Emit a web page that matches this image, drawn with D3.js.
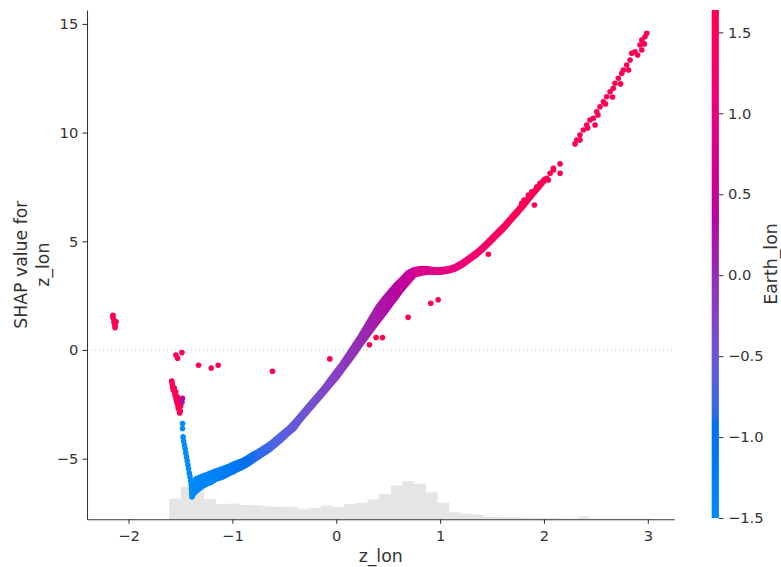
<!DOCTYPE html>
<html>
<head>
<meta charset="utf-8">
<script src="https://cdn.jsdelivr.net/npm/d3@7"></script>
<style>
  body { margin: 0; background: #fff; }
  text { font-family: "DejaVu Sans", sans-serif; fill: #333; }
</style>
</head>
<body>
<div id="chart"></div>
<script>
// tick values
const xTicks = [-2, -1, 0, 1, 2, 3];
const yTicks = [-5, 0, 5, 10, 15];
const cTicks = [-1.5, -1.0, -0.5, 0.0, 0.5, 1.0, 1.5];

// dense part of the scatter: lower / upper SHAP value at each z_lon slice
const bandX = [-1.387,-1.348,-1.300,-1.252,-1.204,-1.156,-1.098,-1.040,-0.983,-0.925,-0.867,-0.809,-0.752,-0.694,-0.636,-0.578,-0.521,-0.463,-0.405,-0.347,-0.290,-0.232,-0.174,-0.116,-0.059,-0.001,0.057,0.115,0.172,0.230,0.288,0.345,0.403,0.461,0.519,0.577,0.634,0.692,0.750,0.807,0.875,0.942,1.010,1.077,1.144,1.212,1.279,1.346,1.414,1.481,1.548,1.616,1.683,1.751,1.818,1.885,1.943,2.001];
const bandHi = [-6.11,-5.93,-5.83,-5.74,-5.65,-5.56,-5.47,-5.37,-5.24,-5.14,-5.01,-4.82,-4.68,-4.50,-4.32,-4.09,-3.86,-3.63,-3.35,-3.03,-2.71,-2.38,-2.06,-1.74,-1.37,-1.00,-0.64,-0.22,0.19,0.61,1.07,1.53,1.99,2.35,2.68,3.00,3.27,3.55,3.69,3.73,3.73,3.69,3.69,3.73,3.83,4.01,4.24,4.47,4.75,5.07,5.39,5.71,6.08,6.45,6.82,7.18,7.51,7.83];
const bandLo = [-6.68,-6.49,-6.31,-6.17,-6.08,-5.94,-5.85,-5.71,-5.57,-5.44,-5.30,-5.11,-4.93,-4.75,-4.56,-4.33,-4.10,-3.83,-3.60,-3.23,-2.91,-2.58,-2.26,-1.94,-1.62,-1.30,-0.93,-0.56,-0.19,0.22,0.59,0.96,1.33,1.69,2.06,2.43,2.80,3.12,3.44,3.53,3.58,3.58,3.58,3.63,3.72,3.90,4.13,4.36,4.64,4.96,5.28,5.60,5.97,6.34,6.71,7.12,7.44,7.77];
const bandEarthLon = [-1.5,-1.45,-1.42,-1.38,-1.33,-1.28,-1.22,-1.15,-1.08,-1.0,-0.95,-0.9,-0.85,-0.8,-0.75,-0.7,-0.65,-0.6,-0.55,-0.5,-0.45,-0.4,-0.35,-0.3,-0.25,-0.2,-0.15,-0.1,-0.05,0.0,0.05,0.1,0.2,0.25,0.3,0.35,0.45,0.55,0.65,0.75,0.8,0.85,0.9,0.95,1.0,1.1,1.2,1.25,1.3,1.35,1.4,1.45,1.5,1.55,1.6,1.6,1.6,1.6];

// separate points
const dotX = [
  -2.150,-2.150,-2.140,-2.140,-2.130,-2.120,-2.130,
  -1.544,-1.528,-1.486,-1.326,-1.204,-1.137,-0.614,-0.062,0.320,0.384,0.445,0.692,0.910,0.981,1.465,1.908,2.155,2.155,
  -1.584,-1.579,-1.575,-1.570,-1.560,-1.555,-1.551,-1.546,-1.541,-1.536,-1.531,-1.526,-1.522,-1.517,-1.512,-1.507,-1.502,-1.498,-1.493,
  -1.482,-1.486,
  -1.480,-1.480,
  -1.475,-1.469,-1.462,-1.455,-1.449,-1.442,-1.435,-1.428,-1.422,-1.415,-1.408,-1.401,-1.397,-1.394,-1.391,-1.389,
  -0.989,-0.700,
  1.786,1.808,1.850,1.883,1.931,1.962,2.027,2.042,2.059,2.091,2.091,
  2.299,2.316,2.347,2.379,2.412,2.443,2.475,2.492,2.508,2.540,2.572,2.604,2.636,2.668,2.684,2.716,2.749,2.764,2.797,2.829,2.845,2.877,2.925,2.942,2.973,2.990,2.942,
  2.347,2.421,2.520,2.592,2.660,2.738,2.815,2.902,2.966
];
const dotY = [
  1.60,1.48,1.38,1.25,1.12,1.30,1.03,
  -0.23,-0.38,-0.12,-0.70,-0.83,-0.70,-0.98,-0.41,0.24,0.57,0.57,1.50,2.15,2.31,4.40,6.67,8.56,8.13,
  -1.43,-1.56,-1.70,-1.84,-1.75,-1.98,-2.12,-1.93,-2.25,-2.39,-2.16,-2.53,-2.67,-2.39,-2.76,-2.90,-2.81,-2.58,-2.35,
  -2.22,-2.40,
  -3.38,-3.61,
  -4.00,-4.19,-4.37,-4.55,-4.74,-4.92,-5.10,-5.29,-5.47,-5.66,-5.84,-6.03,-6.21,-6.39,-6.58,-6.76,
  -5.60,-4.72,
  6.75,6.90,7.13,7.28,7.51,7.67,7.90,7.82,8.13,8.36,8.28,
  9.48,9.66,9.89,10.12,10.35,10.58,10.66,10.35,10.96,11.19,11.42,11.65,11.88,12.04,12.27,12.50,12.73,12.88,13.11,13.34,13.65,13.72,14.03,14.26,14.41,14.57,13.80,
  9.66,10.21,10.81,11.32,11.64,12.24,12.88,13.57,14.08
];
const dotEarthLon = [
  1.64,1.64,1.64,1.64,1.64,1.64,1.64,
  1.64,1.64,1.64,1.64,1.64,1.64,1.64,1.64,1.64,1.64,1.64,1.64,1.64,1.64,1.64,1.64,1.64,1.64,
  1.64,1.64,1.64,1.64,1.64,1.64,1.64,1.64,1.64,1.64,1.64,1.64,1.64,1.64,1.64,1.64,1.64,1.64,1.64,
  0.5,0.3,
  -1.5,-1.5,
  -1.5,-1.5,-1.5,-1.5,-1.5,-1.5,-1.5,-1.5,-1.5,-1.5,-1.5,-1.5,-1.5,-1.5,-1.5,-1.5,
  -1.1,-0.85,
  1.6,1.6,1.6,1.6,1.6,1.6,1.64,1.64,1.64,1.64,1.64,
  1.64,1.64,1.64,1.64,1.64,1.64,1.64,1.64,1.64,1.64,1.64,1.64,1.64,1.64,1.64,1.64,1.64,1.64,1.64,1.64,1.64,1.64,1.64,1.64,1.64,1.64,1.64,
  1.64,1.64,1.64,1.64,1.64,1.64,1.64,1.64,1.64
];

// z_lon histogram
const histEdges = [-1.608,-1.496,-1.383,-1.271,-1.159,-1.046,-0.934,-0.822,-0.710,-0.597,-0.485,-0.373,-0.260,-0.148,-0.036,0.077,0.189,0.301,0.413,0.526,0.638,0.750,0.863,0.975,1.087,1.200,1.312,1.424,1.536,1.649,1.761,1.873,1.986,2.098,2.210,2.323,2.435,2.547,2.659,2.772,2.884,2.996];
const histCounts = [540,854,835,530,400,410,379,366,340,332,326,279,300,358,321,400,431,522,661,883,1000,932,705,436,183,151,123,68,63,57,47,39,31,26,21,73,21,18,16,13,13];

const width = 781;
const height = 567;
const dotR = 2.8;

const svg = d3.select('#chart')
    .append('svg')
    .attr('width', width)
    .attr('height', height);

const x = d3.scaleLinear().domain([-2.40, 3.255]).range([87, 674.3]);
const y = d3.scaleLinear().domain([-7.79, 15.64]).range([519.3, 10]);
const yHist = d3.scaleLinear().domain([0, 13300]).range([519.3, 10]);
const cScale = d3.scaleLinear().domain([-1.5, 1.638]).range([518, 10]);

// shap style red/blue map: walk in LCh from blue to red, lightness dips in the middle
function redBlue(t) {
    t = Math.max(0, Math.min(1, t));
    const i = t * 99;
    const l = i <= 49 ? 54 - 14 * i / 49 : (i >= 50 ? 40 + 14 * (i - 50) / 49 : 40);
    const c = 70 + 20 * t;
    const h = 4.6588 + (6.63789 - 4.6588) * t;
    const a = c * Math.cos(h), b = c * Math.sin(h);
    const fy = (l + 16) / 116, fx = fy + a / 500, fz = fy - b / 200;
    const f = v => v * v * v > 0.008856 ? v * v * v : (v - 16 / 116) / 7.787;
    const X = 0.95047 * f(fx), Y = f(fy), Z = 1.08883 * f(fz);
    const lin = [
        3.2406 * X - 1.5372 * Y - 0.4986 * Z,
        -0.9689 * X + 1.8758 * Y + 0.0415 * Z,
        0.0557 * X - 0.2040 * Y + 1.0570 * Z
    ];
    const rgb = lin.map(v => {
        v = v > 0.0031308 ? 1.055 * Math.pow(v, 1 / 2.4) - 0.055 : 12.92 * v;
        return Math.round(255 * Math.max(0, Math.min(1, v)));
    });
    return `rgb(${rgb[0]},${rgb[1]},${rgb[2]})`;
}
const colour = v => redBlue((v + 1.5) / 3.138);

const defs = svg.append('defs');

// histogram
svg.append('g')
    .selectAll('rect')
    .data(histCounts)
    .join('rect')
    .attr('x', (d, i) => x(histEdges[i]))
    .attr('width', (d, i) => x(histEdges[i + 1]) - x(histEdges[i]))
    .attr('y', d => yHist(d))
    .attr('height', d => yHist(0) - yHist(d))
    .attr('fill', '#000')
    .attr('fill-opacity', 0.1);

// zero line
svg.append('line')
    .attr('x1', x.range()[0])
    .attr('x2', x.range()[1])
    .attr('y1', y(0))
    .attr('y2', y(0))
    .attr('stroke', '#888')
    .attr('stroke-width', 0.7)
    .attr('stroke-dasharray', '0.7,3.3');

// dense band of points, coloured along z_lon
const band = bandX.map((v, i) => ({ x: v, lo: bandLo[i], hi: bandHi[i], c: bandEarthLon[i] }));
const x0 = x(bandX[0]), x1 = x(bandX[bandX.length - 1]);
const grad = defs.append('linearGradient')
    .attr('id', 'bandGrad')
    .attr('gradientUnits', 'userSpaceOnUse')
    .attr('x1', x0).attr('x2', x1)
    .attr('y1', 0).attr('y2', 0);
grad.selectAll('stop')
    .data(band)
    .join('stop')
    .attr('offset', d => (x(d.x) - x0) / (x1 - x0))
    .attr('stop-color', d => colour(d.c));

const area = d3.area()
    .x(d => x(d.x))
    .y0(d => y(d.lo))
    .y1(d => y(d.hi));

svg.append('path')
    .datum(band)
    .attr('d', area)
    .attr('fill', 'url(#bandGrad)')
    .attr('stroke', 'url(#bandGrad)')
    .attr('stroke-width', dotR * 2)
    .attr('stroke-linejoin', 'round');

// single points
const dots = dotX.map((v, i) => ({ x: v, y: dotY[i], c: dotEarthLon[i] }));
svg.append('g')
    .selectAll('circle')
    .data(dots)
    .join('circle')
    .attr('cx', d => x(d.x))
    .attr('cy', d => y(d.y))
    .attr('r', dotR)
    .attr('fill', d => colour(d.c));

// axes
const styleAxis = g => {
    g.selectAll('.domain').attr('stroke', '#333').attr('stroke-width', 1.05);
    g.selectAll('.tick line').attr('stroke', '#333').attr('stroke-width', 1.05);
    g.selectAll('.tick text').attr('fill', '#333').style('font-size', '14.7px')
        .style('font-family', '"DejaVu Sans", sans-serif');
};

svg.append('g')
    .attr('transform', `translate(0,${y.range()[0]})`)
    .call(d3.axisBottom(x).tickValues(xTicks).tickFormat(d3.format('d')).tickSize(4.5).tickSizeOuter(0).tickPadding(7))
    .call(styleAxis);

svg.append('g')
    .attr('transform', `translate(${x.range()[0]},0)`)
    .call(d3.axisLeft(y).tickValues(yTicks).tickFormat(d3.format('d')).tickSize(4.5).tickSizeOuter(0).tickPadding(4.2))
    .call(styleAxis);

// labels
svg.append('text')
    .attr('x', (x.range()[0] + x.range()[1]) / 2)
    .attr('y', 562)
    .attr('text-anchor', 'middle')
    .style('font-size', '17.3px')
    .text('z_lon');

const yMid = (y.range()[0] + y.range()[1]) / 2;
svg.append('text')
    .attr('transform', `translate(27,${yMid}) rotate(-90)`)
    .attr('text-anchor', 'middle')
    .style('font-size', '17.3px')
    .text('SHAP value for');
svg.append('text')
    .attr('transform', `translate(49,${yMid}) rotate(-90)`)
    .attr('text-anchor', 'middle')
    .style('font-size', '17.3px')
    .text('z_lon');

// colour bar
const cGrad = defs.append('linearGradient')
    .attr('id', 'cbarGrad')
    .attr('x1', 0).attr('y1', 1).attr('x2', 0).attr('y2', 0);
cGrad.selectAll('stop')
    .data(d3.range(0, 1.0001, 0.02))
    .join('stop')
    .attr('offset', d => d)
    .attr('stop-color', d => redBlue(d));

svg.append('rect')
    .attr('x', 711.7)
    .attr('y', cScale.range()[1])
    .attr('width', 7.2)
    .attr('height', cScale.range()[0] - cScale.range()[1])
    .attr('fill', 'url(#cbarGrad)');

svg.append('g')
    .attr('transform', 'translate(718.9,0)')
    .call(d3.axisRight(cScale).tickValues(cTicks).tickFormat(d3.format('.1f')).tickSize(4.5).tickPadding(4.5))
    .call(styleAxis)
    .call(g => g.select('.domain').remove());

svg.append('text')
    .attr('transform', `translate(776.5,${(cScale.range()[0] + cScale.range()[1]) / 2}) rotate(-90)`)
    .attr('text-anchor', 'middle')
    .style('font-size', '17.3px')
    .text('Earth_lon');
</script>
</body>
</html>
